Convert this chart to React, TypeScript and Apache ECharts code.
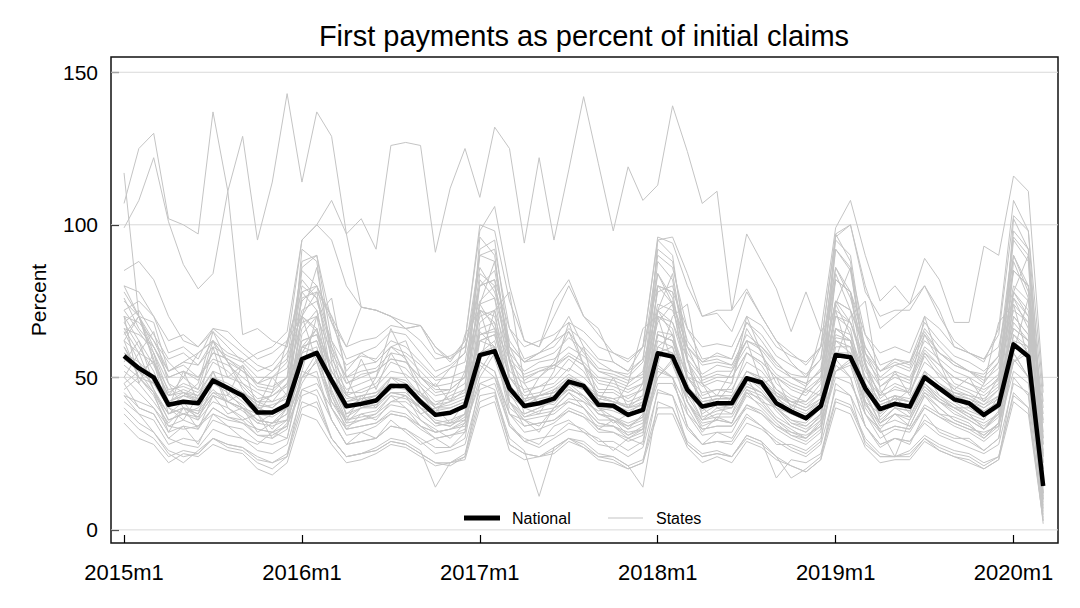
import React, { useEffect, useRef } from "react";
import * as echarts from "echarts";

const tickMonths = [0, 12, 24, 36, 48, 60];
const tickLabels = ["2015m1", "2016m1", "2017m1", "2018m1", "2019m1", "2020m1"];
const yTicks = [0, 50, 100, 150];

const national = [
  57, 53, 50, 41, 42, 41.5, 49, 46.5, 44, 38.5, 38.5, 41,
  56, 58, 49, 40.5, 41.3, 42.4, 47.2, 47.2, 42, 37.7, 38.4, 40.6,
  57.3, 58.6, 46.4, 40.6, 41.5, 43, 48.6, 47.2, 41, 40.7, 37.7, 39.3,
  57.9, 56.8, 45.9, 40.4, 41.5, 41.5, 49.7, 48.3, 41.5, 38.8, 36.6, 40.6,
  57.3, 56.6, 46.4, 39.6, 41.3, 40.4, 50, 46.4, 42.8, 41.5, 37.7, 41,
  60.8, 56.8, 14.4,
];

const stateH = [
  99, 108, 122, 101, 87, 79, 84, 111, 129, 95, 114, 143,
  114, 137, 129, 97, 102, 92, 126, 127, 126, 91, 112, 125,
  109, 132, 125, 94, 122, 95, 118, 142, 120, 98, 119, 108,
  113, 139, 124, 107, 111, 72, 97, 88, 79, 65, 78, 65,
  99, 108, 90, 75, 80, 74, 89, 82, 68, 68, 93, 90,
  116, 111, 47,
];
const stateA = [
  107, 125, 130, 102, 100, 97, 137, 111, 64, 66, 62, 60,
  95, 100, 108, 97, 73, 72, 70, 66, 67, 60, 56, 62,
  98, 106, 80, 62, 60, 75, 82, 70, 66, 55, 52, 60,
  95, 96, 84, 70, 72, 72, 79, 70, 62, 55, 50, 60,
  97, 100, 80, 66, 70, 74, 80, 72, 60, 58, 55, 66,
  108, 98, 30,
];
const stateC = [
  117, 70, 58, 48, 45, 42, 50, 47, 44, 40, 38, 42,
  60, 66, 52, 44, 42, 44, 50, 48, 45, 40, 40, 42,
  66, 68, 50, 43, 44, 46, 50, 48, 44, 42, 40, 41,
  65, 64, 50, 43, 44, 44, 52, 50, 45, 41, 39, 42,
  66, 64, 50, 42, 44, 43, 52, 48, 45, 43, 40, 43,
  70, 64, 18,
];
const state01 = [
  72, 65, 58, 45, 48, 46, 55, 52, 47, 42, 40, 45,
  85, 80, 60, 44, 46, 48, 55, 53, 47, 40, 42, 46,
  90, 88, 58, 45, 47, 50, 56, 52, 44, 43, 40, 44,
  88, 82, 56, 44, 46, 45, 58, 54, 46, 42, 40, 45,
  92, 85, 55, 43, 47, 45, 57, 50, 46, 44, 41, 46,
  95, 88, 12,
];
const state02 = [
  45, 40, 38, 30, 28, 27, 33, 31, 30, 26, 25, 28,
  44, 46, 36, 28, 29, 30, 34, 33, 29, 25, 26, 28,
  46, 48, 34, 29, 27, 30, 33, 32, 28, 27, 24, 27,
  45, 44, 33, 28, 29, 28, 35, 33, 29, 26, 24, 28,
  46, 44, 34, 28, 30, 29, 35, 31, 29, 27, 25, 28,
  48, 45, 8,
];
const state03 = [
  62, 58, 55, 46, 47, 45, 52, 50, 48, 43, 44, 47,
  62, 64, 52, 45, 45, 47, 52, 51, 47, 42, 43, 45,
  64, 65, 50, 46, 47, 48, 53, 50, 45, 45, 42, 44,
  64, 62, 50, 45, 46, 46, 55, 52, 46, 43, 41, 45,
  63, 62, 50, 44, 46, 45, 55, 51, 47, 45, 42, 46,
  66, 62, 20,
];
const state04 = [
  52, 48, 42, 35, 40, 33, 44, 38, 40, 32, 35, 36,
  50, 55, 40, 33, 38, 36, 42, 44, 36, 33, 30, 35,
  55, 52, 38, 36, 32, 40, 42, 40, 33, 36, 31, 33,
  53, 50, 40, 32, 37, 35, 45, 40, 35, 31, 30, 36,
  52, 54, 38, 33, 38, 34, 44, 38, 37, 35, 30, 35,
  58, 50, 10,
];
const state05 = [
  68, 60, 52, 40, 38, 40, 46, 42, 40, 36, 35, 40,
  78, 72, 50, 38, 40, 41, 45, 44, 40, 35, 34, 38,
  82, 76, 48, 40, 42, 41, 47, 43, 38, 36, 34, 37,
  80, 74, 48, 38, 41, 40, 48, 45, 39, 34, 32, 38,
  84, 72, 47, 37, 42, 40, 47, 42, 39, 36, 33, 38,
  88, 76, 15,
];
const state06 = [
  66, 64, 60, 52, 54, 50, 58, 56, 52, 48, 47, 50,
  68, 70, 58, 50, 52, 53, 58, 57, 52, 47, 48, 50,
  70, 72, 56, 51, 53, 54, 58, 55, 50, 49, 47, 50,
  70, 68, 56, 50, 52, 52, 60, 57, 51, 48, 46, 50,
  70, 68, 56, 49, 52, 50, 60, 56, 52, 50, 47, 51,
  72, 68, 25,
];
const state07 = [
  40, 35, 32, 25, 22, 26, 30, 28, 27, 24, 22, 25,
  42, 40, 30, 24, 25, 27, 30, 29, 26, 14, 22, 25,
  44, 45, 30, 26, 11, 27, 30, 29, 25, 24, 21, 14,
  42, 40, 29, 25, 26, 24, 31, 29, 17, 23, 22, 25,
  43, 41, 30, 25, 24, 26, 31, 28, 26, 25, 22, 24,
  45, 40, 5,
];
const state08 = [
  58, 55, 50, 42, 45, 43, 50, 46, 44, 40, 41, 43,
  60, 62, 48, 40, 43, 44, 48, 47, 43, 39, 40, 42,
  62, 64, 46, 42, 44, 45, 50, 47, 42, 41, 39, 41,
  62, 60, 47, 41, 43, 43, 52, 49, 43, 40, 38, 42,
  62, 60, 47, 40, 43, 42, 51, 47, 44, 42, 39, 42,
  64, 60, 18,
];
const state09 = [
  78, 70, 62, 55, 50, 58, 62, 55, 52, 48, 50, 55,
  75, 80, 70, 52, 58, 55, 60, 62, 50, 47, 53, 55,
  80, 85, 60, 55, 58, 62, 65, 58, 52, 50, 48, 52,
  78, 80, 62, 55, 56, 54, 62, 60, 55, 50, 47, 53,
  82, 78, 60, 52, 54, 55, 65, 58, 55, 52, 48, 55,
  85, 80, 35,
];
const state10 = [
  50, 45, 40, 32, 34, 33, 40, 37, 36, 31, 30, 33,
  58, 60, 40, 31, 32, 34, 38, 37, 33, 30, 31, 32,
  62, 60, 38, 32, 33, 35, 39, 37, 32, 32, 29, 31,
  60, 58, 38, 31, 32, 32, 41, 38, 33, 30, 28, 32,
  62, 58, 38, 30, 33, 32, 40, 37, 34, 32, 29, 33,
  64, 58, 6,
];
const state11 = [
  80, 70, 55, 38, 40, 39, 45, 44, 41, 36, 35, 38,
  92, 88, 55, 37, 40, 40, 45, 45, 40, 35, 34, 37,
  96, 90, 55, 38, 40, 42, 46, 44, 38, 37, 34, 36,
  95, 90, 56, 37, 39, 40, 47, 45, 40, 35, 33, 37,
  97, 88, 54, 36, 40, 39, 48, 43, 40, 37, 34, 38,
  102, 92, 22,
];
const state12 = [
  70, 68, 62, 52, 55, 54, 60, 57, 55, 50, 50, 53,
  72, 75, 60, 50, 54, 55, 60, 58, 54, 49, 50, 52,
  74, 76, 58, 52, 55, 56, 60, 57, 52, 51, 49, 51,
  74, 72, 58, 51, 54, 53, 62, 59, 53, 50, 48, 52,
  75, 72, 58, 50, 54, 52, 62, 58, 54, 52, 49, 53,
  78, 72, 30,
];
const state13 = [
  55, 62, 48, 40, 36, 44, 52, 42, 45, 38, 33, 40,
  58, 66, 45, 36, 44, 40, 50, 46, 38, 40, 35, 42,
  65, 60, 44, 40, 38, 46, 48, 44, 40, 35, 38, 42,
  60, 64, 44, 40, 36, 44, 50, 42, 40, 36, 35, 40,
  66, 62, 42, 38, 44, 38, 52, 44, 40, 38, 36, 44,
  70, 64, 16,
];
const state14 = [
  48, 52, 45, 36, 38, 37, 44, 42, 39, 35, 34, 36,
  50, 58, 48, 36, 37, 38, 42, 42, 38, 34, 35, 36,
  52, 60, 45, 37, 38, 39, 43, 42, 36, 36, 33, 35,
  50, 56, 46, 36, 37, 37, 45, 43, 37, 34, 32, 36,
  52, 56, 45, 35, 38, 36, 45, 42, 38, 36, 33, 37,
  55, 60, 12,
];
const state15 = [
  42, 38, 36, 28, 30, 29, 36, 34, 33, 29, 28, 30,
  52, 50, 36, 28, 29, 30, 34, 33, 30, 27, 27, 30,
  55, 52, 35, 29, 30, 31, 35, 33, 29, 29, 26, 29,
  54, 50, 34, 28, 29, 29, 37, 34, 30, 27, 25, 29,
  56, 50, 34, 27, 30, 29, 36, 33, 31, 29, 26, 30,
  58, 50, 4,
];
const state16 = [
  75, 70, 60, 50, 52, 50, 56, 54, 50, 46, 45, 50,
  88, 90, 62, 48, 50, 52, 56, 55, 50, 45, 46, 50,
  92, 95, 60, 50, 52, 54, 57, 54, 48, 47, 45, 48,
  92, 88, 60, 49, 51, 50, 58, 55, 50, 46, 44, 50,
  95, 90, 58, 47, 51, 49, 59, 54, 50, 48, 45, 50,
  98, 92, 28,
];
const state17 = [
  60, 52, 55, 44, 50, 46, 62, 55, 48, 45, 42, 48,
  70, 65, 54, 46, 48, 50, 60, 56, 48, 44, 45, 48,
  72, 70, 52, 48, 50, 55, 65, 54, 46, 46, 43, 46,
  72, 68, 52, 47, 49, 48, 66, 58, 48, 44, 42, 48,
  75, 68, 52, 45, 48, 46, 64, 55, 48, 46, 44, 48,
  78, 70, 24,
];
const state18 = [
  38, 33, 30, 24, 26, 25, 30, 28, 27, 23, 22, 24,
  40, 42, 30, 24, 25, 26, 29, 28, 25, 22, 22, 24,
  42, 44, 28, 25, 24, 27, 30, 28, 24, 24, 21, 23,
  40, 40, 28, 24, 25, 24, 31, 29, 24, 17, 20, 24,
  42, 40, 29, 24, 24, 25, 30, 27, 25, 24, 21, 24,
  44, 40, 3,
];
const state19 = [
  72, 75, 70, 62, 64, 60, 66, 65, 60, 56, 58, 62,
  78, 80, 68, 60, 62, 63, 67, 66, 62, 56, 57, 60,
  80, 82, 66, 60, 62, 64, 68, 65, 60, 58, 56, 60,
  80, 78, 66, 60, 61, 60, 70, 67, 60, 57, 55, 60,
  82, 78, 64, 58, 60, 58, 70, 66, 60, 58, 56, 60,
  85, 80, 40,
];
const state20 = [
  65, 55, 46, 38, 42, 36, 48, 45, 40, 35, 38, 40,
  64, 70, 46, 35, 40, 42, 46, 48, 40, 36, 35, 38,
  68, 72, 42, 38, 40, 44, 46, 44, 40, 37, 33, 38,
  70, 66, 44, 36, 40, 38, 50, 46, 40, 35, 34, 38,
  70, 66, 44, 35, 40, 37, 48, 44, 41, 38, 33, 39,
  74, 68, 14,
];
const state21 = [
  46, 50, 44, 34, 33, 34, 40, 37, 35, 31, 31, 34,
  48, 56, 44, 33, 34, 35, 39, 38, 34, 30, 31, 33,
  50, 58, 42, 34, 35, 36, 40, 38, 33, 32, 30, 32,
  50, 55, 42, 33, 34, 34, 41, 39, 34, 31, 29, 33,
  52, 55, 42, 32, 34, 33, 41, 38, 35, 33, 30, 34,
  55, 58, 10,
];
const state22 = [
  85, 88, 82, 70, 62, 60, 65, 60, 55, 58, 60, 65,
  95, 100, 95, 80, 73, 72, 70, 68, 67, 60, 55, 62,
  100, 98, 75, 62, 60, 70, 80, 70, 64, 58, 55, 60,
  96, 94, 80, 70, 71, 65, 78, 70, 62, 58, 54, 60,
  96, 100, 78, 70, 72, 72, 80, 70, 62, 58, 56, 64,
  103, 98, 45,
];
const state23 = [
  62, 50, 45, 32, 40, 38, 52, 40, 36, 38, 30, 35,
  60, 58, 42, 34, 36, 38, 44, 40, 34, 32, 33, 36,
  58, 62, 40, 36, 34, 40, 45, 40, 35, 34, 30, 33,
  58, 60, 42, 34, 36, 35, 46, 42, 36, 32, 30, 34,
  60, 60, 40, 33, 24, 36, 45, 40, 36, 34, 31, 35,
  62, 60, 9,
];
const state24 = [
  70, 62, 54, 44, 46, 44, 50, 48, 45, 41, 40, 44,
  76, 78, 50, 43, 44, 45, 50, 49, 44, 40, 41, 43,
  80, 82, 50, 44, 45, 47, 51, 48, 43, 42, 40, 42,
  80, 78, 50, 43, 44, 43, 52, 50, 44, 41, 39, 43,
  82, 78, 48, 42, 44, 42, 52, 48, 44, 42, 40, 44,
  85, 80, 20,
];
const state25 = [
  76, 66, 60, 50, 52, 49, 58, 56, 53, 47, 46, 50,
  80, 76, 56, 48, 51, 52, 56, 55, 50, 46, 46, 50,
  84, 80, 55, 49, 52, 53, 57, 54, 49, 48, 46, 48,
  84, 76, 55, 48, 50, 50, 58, 55, 50, 47, 45, 49,
  86, 78, 54, 47, 50, 48, 58, 54, 50, 48, 46, 49,
  90, 80, 32,
];
const state26 = [
  64, 70, 68, 52, 55, 58, 62, 50, 54, 48, 52, 58,
  70, 78, 70, 60, 73, 72, 70, 66, 67, 58, 56, 60,
  75, 80, 62, 55, 58, 62, 70, 60, 55, 52, 50, 55,
  72, 75, 60, 55, 58, 56, 68, 62, 55, 50, 48, 52,
  75, 72, 60, 52, 56, 54, 66, 60, 55, 52, 50, 55,
  80, 75, 38,
];
const state27 = [
  35, 30, 28, 22, 25, 24, 28, 26, 25, 20, 18, 22,
  38, 36, 28, 22, 23, 25, 28, 27, 24, 21, 22, 23,
  40, 42, 26, 23, 24, 25, 29, 27, 23, 22, 20, 22,
  38, 38, 27, 22, 24, 22, 29, 27, 23, 21, 19, 23,
  40, 38, 27, 22, 23, 23, 29, 26, 24, 22, 20, 23,
  42, 38, 3,
];
const state28 = [
  54, 50, 48, 42, 44, 43, 48, 46, 45, 42, 44, 48,
  60, 62, 48, 42, 43, 44, 48, 47, 45, 41, 44, 46,
  62, 64, 46, 42, 44, 45, 48, 46, 44, 43, 44, 46,
  64, 62, 47, 42, 43, 43, 50, 48, 45, 42, 42, 46,
  64, 62, 46, 41, 43, 42, 50, 47, 45, 44, 43, 47,
  66, 62, 22,
];
const state29 = [
  44, 42, 40, 34, 36, 34, 38, 36, 35, 33, 32, 34,
  46, 48, 40, 33, 34, 35, 38, 37, 34, 32, 33, 34,
  48, 50, 38, 34, 35, 36, 39, 37, 34, 34, 32, 33,
  48, 48, 38, 33, 34, 34, 40, 38, 34, 32, 31, 34,
  50, 48, 38, 32, 34, 33, 40, 37, 35, 33, 32, 34,
  52, 48, 12,
];
const state30 = [
  80, 78, 70, 58, 60, 56, 66, 62, 58, 54, 52, 56,
  86, 90, 68, 56, 58, 60, 65, 64, 58, 52, 54, 58,
  90, 92, 66, 56, 58, 60, 66, 62, 56, 55, 52, 56,
  90, 86, 66, 56, 57, 56, 68, 64, 57, 54, 51, 56,
  92, 86, 64, 54, 56, 55, 68, 62, 57, 55, 52, 57,
  96, 90, 42,
];
const state31 = [
  60, 50, 45, 38, 40, 37, 44, 42, 40, 38, 45, 62,
  70, 55, 42, 36, 38, 39, 44, 43, 40, 38, 46, 64,
  72, 56, 42, 37, 39, 40, 45, 42, 39, 40, 48, 66,
  70, 54, 42, 36, 38, 38, 46, 44, 40, 38, 47, 65,
  72, 55, 41, 35, 38, 37, 46, 42, 40, 40, 48, 68,
  74, 56, 16,
];
const state32 = [
  50, 58, 65, 48, 40, 38, 45, 42, 40, 36, 35, 38,
  52, 70, 76, 50, 40, 41, 45, 44, 40, 35, 36, 38,
  55, 72, 78, 48, 41, 42, 46, 44, 38, 37, 35, 37,
  54, 70, 74, 48, 40, 40, 47, 45, 40, 36, 34, 38,
  56, 70, 75, 46, 40, 39, 47, 43, 40, 37, 35, 38,
  58, 76, 26,
];
const state33 = [
  70, 48, 58, 40, 52, 42, 60, 44, 54, 40, 50, 44,
  66, 72, 50, 44, 56, 46, 58, 50, 44, 48, 42, 52,
  74, 66, 56, 42, 50, 54, 52, 60, 42, 50, 40, 48,
  68, 74, 50, 48, 44, 52, 62, 48, 50, 40, 46, 44,
  72, 68, 54, 44, 52, 44, 58, 52, 46, 50, 42, 50,
  76, 70, 28,
];
const state34 = [
  44, 38, 32, 26, 24, 25, 30, 27, 26, 22, 20, 24,
  46, 44, 30, 24, 25, 26, 29, 28, 25, 22, 21, 24,
  48, 46, 28, 25, 24, 26, 30, 27, 24, 23, 20, 22,
  46, 44, 28, 24, 25, 24, 30, 28, 24, 21, 19, 23,
  48, 44, 28, 24, 24, 24, 30, 26, 24, 23, 20, 23,
  50, 44, 2,
];
const state35 = [
  58, 52, 48, 40, 44, 48, 65, 55, 46, 40, 38, 42,
  62, 64, 48, 38, 42, 50, 66, 56, 45, 38, 38, 41,
  64, 66, 46, 40, 44, 52, 68, 54, 42, 40, 37, 40,
  64, 62, 46, 39, 42, 48, 70, 58, 44, 38, 36, 40,
  66, 62, 46, 38, 42, 46, 70, 55, 44, 40, 37, 41,
  68, 62, 18,
];
const state36 = [
  68, 72, 64, 56, 58, 54, 62, 58, 56, 52, 54, 60,
  82, 76, 62, 54, 57, 56, 62, 60, 55, 50, 53, 58,
  86, 78, 60, 55, 56, 58, 63, 59, 53, 52, 51, 56,
  84, 74, 60, 54, 55, 54, 64, 60, 54, 51, 50, 56,
  86, 76, 58, 52, 55, 53, 64, 58, 54, 52, 51, 57,
  90, 78, 36,
];
const state37 = [
  48, 40, 38, 30, 34, 28, 38, 34, 30, 28, 32, 30,
  50, 52, 36, 28, 32, 30, 36, 32, 28, 30, 27, 32,
  54, 50, 34, 30, 28, 34, 36, 32, 30, 26, 30, 28,
  52, 50, 34, 28, 32, 30, 38, 34, 28, 28, 26, 30,
  54, 50, 34, 28, 30, 28, 38, 32, 30, 30, 26, 30,
  56, 50, 7,
];
const state38 = [
  62, 70, 56, 42, 44, 42, 48, 46, 42, 38, 37, 40,
  70, 86, 58, 40, 42, 43, 47, 46, 42, 37, 38, 40,
  74, 88, 56, 41, 43, 44, 48, 46, 40, 39, 37, 39,
  72, 84, 56, 40, 42, 42, 50, 47, 41, 38, 36, 40,
  74, 86, 55, 39, 42, 41, 50, 46, 42, 39, 37, 40,
  78, 90, 24,
];
const state39 = [
  56, 52, 50, 44, 45, 44, 48, 46, 45, 42, 42, 44,
  56, 58, 48, 42, 44, 45, 48, 47, 44, 41, 42, 44,
  58, 60, 47, 43, 44, 45, 48, 46, 43, 42, 41, 43,
  58, 58, 47, 42, 43, 43, 50, 48, 44, 42, 40, 43,
  58, 58, 46, 41, 43, 42, 50, 47, 44, 43, 41, 44,
  60, 58, 20,
];
const state40 = [
  66, 58, 46, 36, 38, 36, 42, 40, 37, 33, 32, 36,
  70, 66, 44, 35, 36, 37, 41, 40, 36, 32, 33, 35,
  72, 68, 42, 36, 37, 38, 42, 40, 35, 34, 31, 34,
  72, 64, 42, 35, 36, 35, 44, 41, 36, 33, 30, 35,
  74, 64, 42, 34, 36, 34, 44, 40, 36, 34, 31, 35,
  76, 66, 11,
];

const states = [
  stateH, stateA, stateC, state01, state02, state03, state04, state05, state06,
  state07, state08, state09, state10, state11, state12, state13, state14, state15,
  state16, state17, state18, state19, state20, state21, state22, state23, state24,
  state25, state26, state27, state28, state29, state30, state31, state32, state33,
  state34, state35, state36, state37, state38, state39, state40,
];

const FONT = "'Liberation Sans', Arial, Helvetica, sans-serif";
const X_MIN = -0.88;
const X_MAX = 63;

export default function App() {
  const ref = useRef<HTMLDivElement>(null);

  useEffect(() => {
    if (!ref.current) return;
    const chart = echarts.init(ref.current, null, { renderer: "svg" });
    const toPairs = (arr: number[]) => arr.map((v, i) => [i, v]);

    const gridSeries = yTicks.map((v) => ({
      type: "line",
      data: [
        [X_MIN, v],
        [X_MAX, v],
      ],
      showSymbol: false,
      symbol: "none",
      silent: true,
      z: 1,
      lineStyle: { color: "#d9d9d9", width: 1 },
    }));

    const stateSeries = states.map((s) => ({
      name: "States",
      type: "line",
      data: toPairs(s),
      showSymbol: false,
      symbol: "none",
      silent: true,
      z: 2,
      lineStyle: { color: "#c4c4c4", width: 1 },
    }));

    chart.setOption({
      animation: false,
      textStyle: { fontFamily: FONT },
      graphic: [
        {
          type: "text",
          x: 584,
          y: 21,
          style: {
            text: "First payments as percent of initial claims",
            fontSize: 29,
            fontFamily: FONT,
            fill: "#000",
            textAlign: "center",
          },
        },
        {
          type: "line",
          z: 100,
          shape: { x1: 464, y1: 518, x2: 500, y2: 518 },
          style: { stroke: "#000", lineWidth: 5 },
        },
        {
          type: "text",
          z: 100,
          x: 512,
          y: 518,
          style: {
            text: "National",
            fontSize: 16,
            fontFamily: FONT,
            fill: "#000",
            textVerticalAlign: "middle",
            verticalAlign: "middle",
          },
        },
        {
          type: "line",
          z: 100,
          shape: { x1: 608, y1: 518, x2: 643, y2: 518 },
          style: { stroke: "#c4c4c4", lineWidth: 1.2 },
        },
        {
          type: "text",
          z: 100,
          x: 656,
          y: 518,
          style: {
            text: "States",
            fontSize: 16,
            fontFamily: FONT,
            fill: "#000",
            textVerticalAlign: "middle",
            verticalAlign: "middle",
          },
        },
      ],
      grid: {
        left: 111,
        right: 22,
        top: 57,
        bottom: 65,
        show: true,
        borderColor: "#111",
        borderWidth: 1.5,
        backgroundColor: "#fff",
      },
      xAxis: {
        type: "value",
        min: X_MIN,
        max: X_MAX,
        axisLine: { show: false, onZero: false },
        splitLine: { show: false },
        axisTick: {
          show: true,
          inside: true,
          length: 8,
          customValues: tickMonths,
          lineStyle: { color: "#000", width: 1.2 },
        },
        axisLabel: {
          show: true,
          customValues: tickMonths,
          formatter: (v: number) => tickLabels[tickMonths.indexOf(Math.round(v))] ?? "",
          fontSize: 22,
          color: "#000",
          margin: 18,
          fontFamily: FONT,
        },
      },
      yAxis: {
        type: "value",
        min: -4.3,
        max: 155,
        name: "Percent",
        nameLocation: "middle",
        nameRotate: 90,
        nameGap: 62,
        nameTextStyle: { fontSize: 21, color: "#000", fontFamily: FONT },
        axisLine: { show: false, onZero: false },
        splitLine: { show: false },
        axisTick: {
          show: true,
          inside: true,
          length: 8,
          customValues: yTicks,
          lineStyle: { color: "#000", width: 1.2 },
        },
        axisLabel: {
          show: true,
          customValues: yTicks,
          fontSize: 21,
          color: "#000",
          margin: 13,
          fontFamily: FONT,
        },
      },
      series: [
        ...gridSeries,
        ...stateSeries,
        {
          name: "National",
          type: "line",
          data: toPairs(national),
          showSymbol: false,
          symbol: "none",
          z: 5,
          lineStyle: { color: "#000", width: 4.5, join: "round" },
        },
      ],
    });

    return () => chart.dispose();
  }, []);

  return (
    <div
      ref={ref}
      style={{ position: "fixed", left: 0, top: 0, width: 1080, height: 608, background: "#fff" }}
    />
  );
}
